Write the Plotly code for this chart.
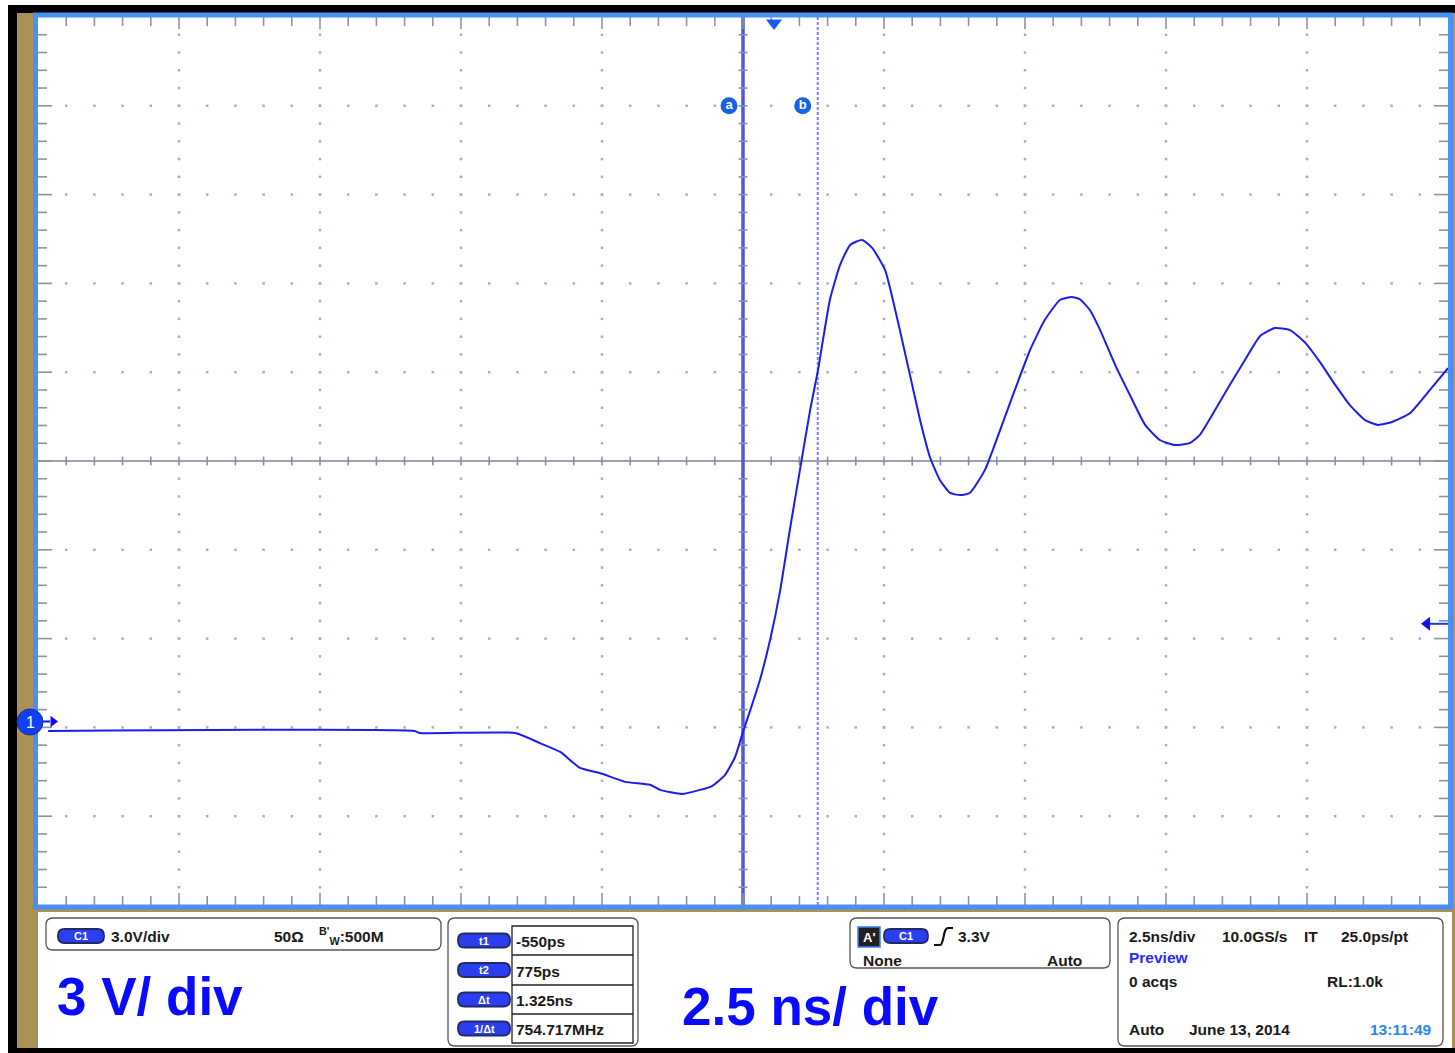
import plotly.graph_objects as go

# ---------------- data ----------------
t_ns = [-12.87, -6.37, -6.28, -4.59, -4.15, -3.79, -3.44, -3.09, -2.64, -2.20, -2.02, -1.63,
        -1.31, -1.10, -0.87, -0.69, -0.55, -0.39, -0.25, -0.07, 0.11, 0.28, 0.46, 0.64, 0.78,
        0.99, 1.17, 1.35, 1.56, 1.74, 1.97, 2.23, 2.41, 2.59, 2.77, 2.94, 3.12, 3.30, 3.47,
        3.74, 4.01, 4.27, 4.54, 4.80, 5.07, 5.28, 5.42, 5.60, 5.78, 6.05, 6.31, 6.58, 6.84,
        7.11, 7.38, 7.55, 7.82, 8.08, 8.35, 8.62, 8.88, 9.15, 9.42, 9.68, 9.95, 10.21, 10.48,
        10.71, 10.96, 11.28, 11.63, 11.95]
v_volts = [-0.32, -0.32, -0.39, -0.39, -0.73, -1.03, -1.57, -1.74, -2.04, -2.14, -2.31, -2.45,
           -2.31, -2.18, -1.81, -1.20, -0.35, 0.56, 1.40, 2.75, 4.44, 6.47, 8.50, 10.52, 11.87,
           14.24, 15.42, 16.10, 16.27, 16.00, 15.25, 13.23, 11.71, 10.18, 8.90, 8.16, 7.72, 7.65, 7.72,
           8.50, 9.85, 11.20, 12.55, 13.56, 14.24, 14.34, 14.27, 13.90, 13.23, 12.04, 11.03, 10.02, 9.51,
           9.34, 9.41, 9.68, 10.52, 11.37, 12.21, 13.02, 13.29, 13.22, 12.79, 12.14, 11.37, 10.69, 10.18,
           10.02, 10.12, 10.42, 11.20, 11.94]

VDIV = 3.0          # V/div
TDIV = 2.5          # ns/div
T_CENTER = -0.55    # ns at screen centre
V_CENTER = 8.8      # V at screen centre
CURSOR_T1 = -0.55   # ns
CURSOR_T2 = 0.775   # ns
TRIG_LEVEL = 3.3    # V
GROUND = 0.0

cursor_rows = ["t1", "t2", "Δt", "1/Δt"]
cursor_vals = ["-550ps", "775ps", "1.325ns", "754.717MHz"]

# ---------------- geometry helpers ----------------
W, H = 1455, 1053
L, R, T, B = 38, 1448, 17, 905
NX, NY = 10, 10
xr = [T_CENTER - NX / 2 * TDIV, T_CENTER + NX / 2 * TDIV]
yr = [V_CENTER - NY / 2 * VDIV, V_CENTER + NY / 2 * VDIV]
dxp = TDIV / ((R - L) / NX)   # ns per pixel
dyp = VDIV / ((B - T) / NY)   # V per pixel


def PX(p):
    return (p - L) / (R - L)


def PY(p):
    return (B - p) / (B - T)


def px2t(p):
    return T_CENTER + (p - (L + R) / 2) * dxp


FONT = "Liberation Sans, Arial, Helvetica, sans-serif"
GRID_C = "#a9aebf"
TICK_C = "#8c92a4"

fig = go.Figure()

# grid dots
gx, gy = [], []
for k in range(-4, 5):
    if k == 0:
        continue
    for j in range(-24, 25):
        gx.append(T_CENTER + k * TDIV)
        gy.append(V_CENTER + j * VDIV / 5)
        gx.append(T_CENTER + j * TDIV / 5)
        gy.append(V_CENTER + k * VDIV)
fig.add_trace(go.Scatter(x=gx, y=gy, mode="markers",
                         marker=dict(symbol="square", size=2.5, color=GRID_C, line_width=0),
                         hoverinfo="skip"))

# centre cross lines
fig.add_trace(go.Scatter(x=[xr[0], xr[1], None, T_CENTER, T_CENTER],
                         y=[V_CENTER, V_CENTER, None, yr[0], yr[1]],
                         mode="lines", line=dict(color="#9ca2b3", width=2), hoverinfo="skip"))

# cursor a (solid) and b (dashed)
fig.add_trace(go.Scatter(x=[CURSOR_T1, CURSOR_T1], y=yr, mode="lines",
                         line=dict(color="#5058d6", width=3.5), hoverinfo="skip"))
fig.add_trace(go.Scatter(x=[CURSOR_T2, CURSOR_T2], y=yr, mode="lines",
                         line=dict(color="#7a7cff", width=2, dash="3px,2px"), hoverinfo="skip"))

# ticks: centre cross + edges
tx, ty = [], []
for j in range(-24, 25):
    if j == 0:
        continue
    x = T_CENTER + j * TDIV / 5
    y = V_CENTER + j * VDIV / 5
    tx += [x, x, None]
    ty += [V_CENTER - 4.5 * dyp, V_CENTER + 4.5 * dyp, None]
    tx += [T_CENTER - 4.5 * dxp, T_CENTER + 4.5 * dxp, None]
    ty += [y, y, None]
for j in range(-24, 25):
    x = T_CENTER + j * TDIV / 5
    y = V_CENTER + j * VDIV / 5
    major = (j % 5 == 0)
    lx = (12 if major else 9)
    ly = (14 if major else 9)
    tx += [x, x, None, x, x, None]
    ty += [yr[1], yr[1] - lx * dyp, None, yr[0], yr[0] + lx * dyp, None]
    tx += [xr[0], xr[0] + ly * dxp, None, xr[1], xr[1] - ly * dxp, None]
    ty += [y, y, None, y, y, None]
fig.add_trace(go.Scatter(x=tx, y=ty, mode="lines", line=dict(color=TICK_C, width=1.6),
                         hoverinfo="skip"))

# waveform
fig.add_trace(go.Scatter(x=t_ns, y=v_volts, mode="lines",
                         line=dict(color="#1c1cf2", width=2, shape="spline", smoothing=0.5),
                         hoverinfo="skip"))

# cursor labels a / b
cy = V_CENTER + 4 * VDIV
fig.add_trace(go.Scatter(x=[CURSOR_T1 - 14 * dxp, CURSOR_T2 - 15 * dxp], y=[cy, cy],
                         mode="markers+text", text=["<b>a</b>", "<b>b</b>"],
                         textfont=dict(color="white", size=13, family=FONT),
                         textposition="middle center",
                         marker=dict(size=17, color="#1463e6", line_width=0),
                         cliponaxis=False, hoverinfo="skip"))

# trigger position marker at t=0
fig.add_trace(go.Scatter(x=[0.0], y=[yr[1] - 6 * dyp], mode="markers",
                         marker=dict(symbol="triangle-down", size=14, color="#1a5cf0", line_width=0),
                         cliponaxis=False, hoverinfo="skip"))

# channel 1 ground arrow
fig.add_trace(go.Scatter(x=[px2t(40), px2t(50)], y=[GROUND, GROUND], mode="lines",
                         line=dict(color="#1010f0", width=2), cliponaxis=False, hoverinfo="skip"))
fig.add_trace(go.Scatter(x=[px2t(53)], y=[GROUND], mode="markers",
                         marker=dict(symbol="triangle-right", size=10, color="#1010f0", line_width=0),
                         cliponaxis=False, hoverinfo="skip"))

# trigger level marker
fig.add_trace(go.Scatter(x=[px2t(1430), xr[1]], y=[TRIG_LEVEL, TRIG_LEVEL], mode="lines",
                         line=dict(color="#1a3cf0", width=2), cliponaxis=False, hoverinfo="skip"))
fig.add_trace(go.Scatter(x=[px2t(1427)], y=[TRIG_LEVEL], mode="markers",
                         marker=dict(symbol="triangle-left", size=12, color="#1010f0", line_width=0),
                         cliponaxis=False, hoverinfo="skip"))

# ---------------- frame / panels ----------------
shapes = []


def rect(x0, y0, x1, y1, fill=None, line=None, lw=0, layer="below"):
    shapes.append(dict(type="rect", xref="paper", yref="paper",
                       x0=PX(x0), x1=PX(x1), y0=PY(y1), y1=PY(y0),
                       fillcolor=fill if fill else "rgba(0,0,0,0)",
                       line=dict(color=line if line else "rgba(0,0,0,0)", width=lw),
                       layer=layer))


def rrect_path(x0, y0, x1, y1, r):
    pts = [("M", x0 + r, y0), ("L", x1 - r, y0), ("Q", x1, y0, x1, y0 + r), ("L", x1, y1 - r),
           ("Q", x1, y1, x1 - r, y1), ("L", x0 + r, y1), ("Q", x0, y1, x0, y1 - r),
           ("L", x0, y0 + r), ("Q", x0, y0, x0 + r, y0)]
    s = ""
    for p in pts:
        if p[0] == "Q":
            s += f"Q {PX(p[1])},{PY(p[2])} {PX(p[3])},{PY(p[4])} "
        else:
            s += f"{p[0]} {PX(p[1])},{PY(p[2])} "
    return s + "Z"


def rrect(x0, y0, x1, y1, r, fill=None, line="#555555", lw=1.3, layer="above"):
    shapes.append(dict(type="path", xref="paper", yref="paper", path=rrect_path(x0, y0, x1, y1, r),
                       fillcolor=fill if fill else "rgba(0,0,0,0)",
                       line=dict(color=line, width=lw), layer=layer))


rect(8, 5, 1455, 1053, fill="black")
rect(17, 13, 1455, 1048, fill="#a99157")
rect(38, 912, 1452, 1048, fill="white")
rect(35, 15, 1451, 907, fill="white")
rect(35.5, 15, 1450.5, 907, line="#4a8ff2", lw=5, layer="above")

# channel-1 badge (sits on the frame, outside the plot area)
shapes.append(dict(type="circle", xref="paper", yref="paper",
                   x0=PX(17), x1=PX(43), y0=PY(735), y1=PY(709),
                   fillcolor="#1040f2", line=dict(color="#1a2a9a", width=1), layer="above"))

# panel boxes
rrect(46, 918, 441, 950, 7)
rrect(448, 918, 638, 1046, 7)
rrect(850, 918, 1110, 968, 7)
rrect(1118, 918, 1443, 1046, 7)


def pill(x0, yc, x1, h=14):
    rrect(x0, yc - h / 2, x1, yc + h / 2, h / 2 - 0.5, fill="#2b3ff0", line="#222a66", lw=1.8)


annots = []


def txt(x, y, s, size=15.5, color="#1a1a1a", anchor="left", bold=True):
    annots.append(dict(xref="paper", yref="paper", x=PX(x), y=PY(y), text=f"<b>{s}</b>" if bold else s,
                       showarrow=False, xanchor=anchor, yanchor="middle",
                       font=dict(family=FONT, size=size, color=color)))


txt(30, 722, "1", size=16, color="white", anchor="center", bold=False)

# panel 1
pill(58, 936, 104)
txt(81, 936, "C1", size=11, color="white", anchor="center")
txt(109, 936, "3.0V/div")
txt(272, 936, "50Ω")
txt(317, 936, "<sup>B'</sup><sub>W</sub>:500M")
txt(55, 996, "3 V/ div", size=53, color="#0a0aff")

# panel 2: cursor table
rows_y = [926, 955, 985, 1014, 1043]
shapes.append(dict(type="rect", xref="paper", yref="paper", x0=PX(512), x1=PX(633),
                   y0=PY(rows_y[-1]), y1=PY(rows_y[0]), line=dict(color="#222", width=1.3),
                   layer="above"))
for yy in rows_y[1:-1]:
    shapes.append(dict(type="line", xref="paper", yref="paper", x0=PX(512), x1=PX(633),
                       y0=PY(yy), y1=PY(yy), line=dict(color="#222", width=1.3), layer="above"))
for i, (lab, val) in enumerate(zip(cursor_rows, cursor_vals)):
    yc = (rows_y[i] + rows_y[i + 1]) / 2
    pill(458, yc, 510)
    txt(484, yc, lab, size=11, color="white", anchor="center")
    txt(514, yc + 1, val)
txt(680, 1006, "2.5 ns/ div", size=53, color="#0a0aff")

# panel 3: trigger
rect(858, 927, 880, 947, fill="#202020", line="#3a7fff", lw=1.5, layer="above")
txt(869, 937, "A'", size=13, color="white", anchor="center")
pill(884, 936, 928)
txt(906, 936, "C1", size=11, color="white", anchor="center")
shapes.append(dict(type="path", xref="paper", yref="paper",
                   path=(f"M {PX(934)},{PY(945)} L {PX(940)},{PY(945)} "
                         f"C {PX(944)},{PY(945)} {PX(943)},{PY(928)} {PX(948)},{PY(928)} "
                         f"L {PX(953)},{PY(928)}"),
                   line=dict(color="#111", width=2.2), layer="above"))
txt(956, 936, "3.3V")
txt(861, 960, "None")
txt(1084, 960, "Auto", anchor="right")

# panel 4: timebase
txt(1127, 936, "2.5ns/div")
txt(1220, 936, "10.0GS/s")
txt(1302, 936, "IT")
txt(1339, 936, "25.0ps/pt")
txt(1127, 957, "Preview", color="#2a2aff")
txt(1127, 981, "0 acqs")
txt(1325, 981, "RL:1.0k")
txt(1127, 1029, "Auto")
txt(1187, 1029, "June 13, 2014")
txt(1434, 1029, "13:11:49", color="#2a86f0", anchor="right")

ax = dict(showgrid=False, zeroline=False, showticklabels=False, ticks="",
          showline=False, fixedrange=True)
fig.update_layout(
    width=W, height=H,
    margin=dict(l=L, r=W - R, t=T, b=H - B, pad=0),
    paper_bgcolor="white", plot_bgcolor="white",
    showlegend=False, hovermode=False,
    xaxis=dict(ax, range=xr),
    yaxis=dict(ax, range=yr),
    shapes=shapes, annotations=annots,
)
fig.write_html("out.html", config={"displayModeBar": False},
               post_script="document.body.style.margin='0';document.body.style.overflow='hidden';")
